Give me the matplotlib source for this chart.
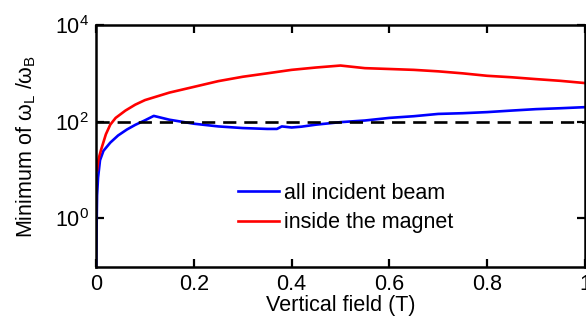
import numpy as np
import matplotlib
matplotlib.use("Agg")
import matplotlib.pyplot as plt

# Data
field_all = [0.0, 0.001, 0.002, 0.004, 0.008, 0.015, 0.029, 0.045, 0.063, 0.08, 0.1, 0.118,
             0.15, 0.2, 0.25, 0.3, 0.35, 0.37, 0.38, 0.4, 0.42, 0.45, 0.5, 0.55, 0.6, 0.65,
             0.7, 0.75, 0.8, 0.85, 0.9, 0.95, 1.0]
ratio_all = [0.05, 0.6, 3.0, 7.0, 16, 25, 37, 52, 69, 86, 107, 132,
             110, 91, 80, 74, 71, 71, 80, 76, 79, 87, 98, 106, 120, 130,
             145, 150, 158, 170, 182, 190, 200]

field_in = [0.002, 0.005, 0.01, 0.02, 0.029, 0.04, 0.06, 0.08, 0.1, 0.15, 0.2, 0.25,
            0.3, 0.35, 0.4, 0.45, 0.5, 0.55, 0.6, 0.65, 0.7, 0.75, 0.8, 0.85, 0.9, 0.95, 1.0]
ratio_in = [10, 17, 26, 55, 87, 120, 170, 225, 280, 400, 525, 690,
            850, 1000, 1180, 1320, 1450, 1280, 1230, 1180, 1100, 1000, 890, 830, 760, 700, 630]

plt.rcParams['font.family'] = ['Liberation Sans', 'DejaVu Sans']
plt.rcParams['mathtext.fontset'] = 'custom'
plt.rcParams['mathtext.rm'] = 'Liberation Sans'
plt.rcParams['mathtext.it'] = 'Liberation Sans'

FS = 15.5

fig = plt.figure(figsize=(5.86, 3.2), dpi=100)
ax = fig.add_axes([0.164, 0.166, 0.834, 0.756])

ax.plot(field_all, ratio_all, color='#0000ff', lw=1.9, label='all incident beam')
ax.plot(field_in, ratio_in, color='#ff0000', lw=1.9, label='inside the magnet')
ax.axhline(100, color='black', lw=1.9, linestyle=(0, (5, 3)))

ax.set_yscale('log')
ax.set_xlim(0, 1)
ax.set_ylim(0.1, 1e4)
ax.set_yticks([1, 100, 10000])
ax.set_yticklabels(['$10^0$', '$10^2$', '$10^4$'])
ax.yaxis.set_minor_locator(matplotlib.ticker.NullLocator())
ax.set_xticks([0, 0.2, 0.4, 0.6, 0.8, 1])
ax.set_xticklabels(['0', '0.2', '0.4', '0.6', '0.8', '1'])

ax.tick_params(direction='in', length=6, width=1.6, top=True, right=True,
               labelsize=FS, pad=5)
for s in ax.spines.values():
    s.set_linewidth(1.8)

ax.set_xlabel('Vertical field (T)', fontsize=FS, labelpad=0)
ax.set_ylabel(r'Minimum of ω$_{\mathrm{L}}$ /ω$_{\mathrm{B}}$', fontsize=FS, labelpad=12)

ax.legend(loc='center left', bbox_to_anchor=(0.29, 0.244), frameon=False,
          fontsize=FS, handlelength=1.9, handletextpad=0.25, labelspacing=0.4,
          borderaxespad=0, borderpad=0)

fig.savefig('out.png', dpi=100)
